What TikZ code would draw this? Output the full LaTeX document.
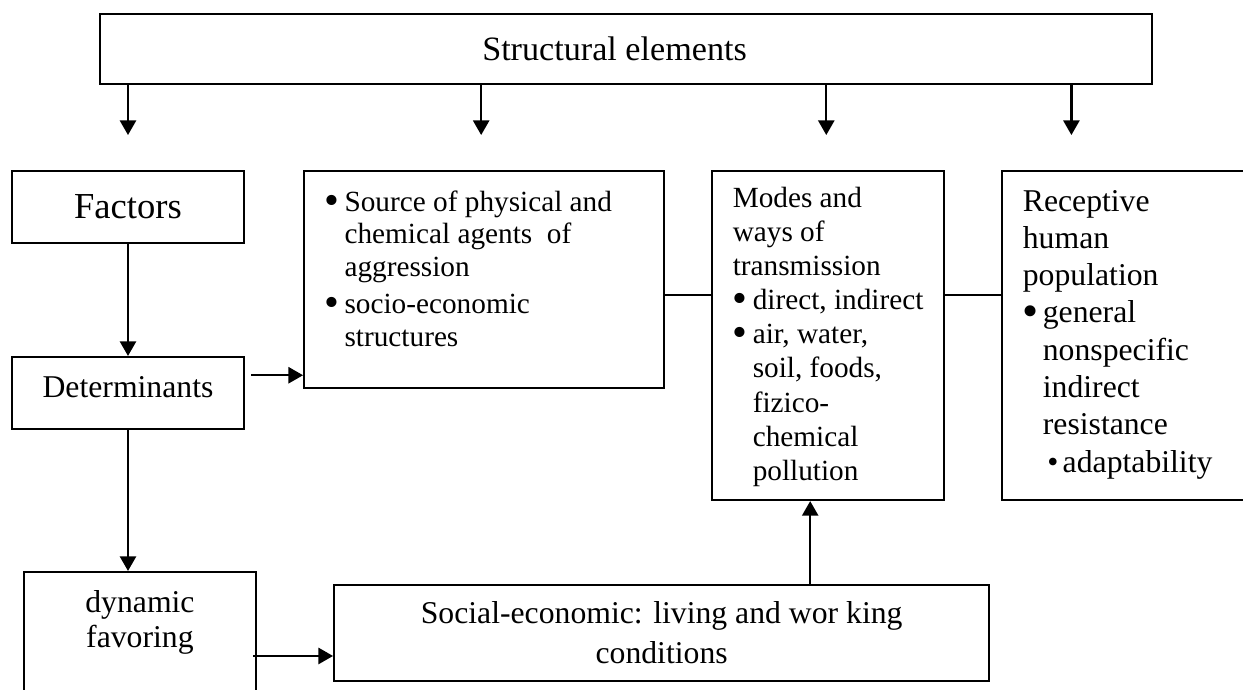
\documentclass[tikz,border=0pt]{standalone}
\usepackage{fontspec}
\setmainfont{Liberation Serif}
\usetikzlibrary{positioning, arrows.meta}

% round bullet, a bit larger than the text one
\newcommand{\bigbullet}{\raisebox{-1.3pt}{\scalebox{1.45}{\textbullet}}}
% bulleted item with hanging indent
\newcommand{\bitem}[1]{\hangindent=8.2pt\hangafter=1\noindent\makebox[8.2pt][l]{\bigbullet}#1\par}
% fixed-size text block, set from the top
\newcommand{\toptext}[3]{\parbox[c][#1][t]{#2}{\raggedright\parskip=0pt #3}}

\begin{document}
\begin{tikzpicture}[
    x=0.41pt, y=-0.41pt,
    >={Triangle[length=6pt, width=6.6pt]},
    line width=0.85pt,
    block/.style={
        draw,
        rectangle,
        align=center,
        inner sep=0pt
    },
    listbox/.style={
        draw,
        rectangle,
        inner xsep=8.4pt,
        inner ysep=0pt
    },
    link/.style={->, line width=0.95pt}
]

\useasboundingbox (0,0) rectangle (1243,689);
\clip (0,0) rectangle (1243,689);

\node[block, minimum width=431.3pt, minimum height=28.7pt, font=\fontsize{14pt}{16pt}\selectfont] (elems) at (626,49) {Structural elements\hspace{9.4pt}};

\node[block, minimum width=95.1pt, minimum height=29.5pt, font=\fontsize{15pt}{17pt}\selectfont] (factors) at (128,207) {Factors};
\node[block, below=45.9pt of factors, minimum width=95.1pt, minimum height=29.5pt, text depth=5pt, font=\fontsize{13pt}{15pt}\selectfont] (determ) {Determinants};
\node[listbox, below=57.8pt of determ, xshift=4.9pt, font=\fontsize{13pt}{14.4pt}\selectfont] (dynamic) {\toptext{62pt}{78.3pt}{\centering\rule{0pt}{16.4pt}dynamic\\ favoring}};

\node[listbox, right=23.8pt of factors.north east, anchor=north west, font=\fontsize{12pt}{13.5pt}\selectfont] (source) {\toptext{89pt}{130.8pt}{%
    \bitem{\rule{0pt}{16.4pt}Source of physical and\newline chemical agents\ \ of\newline aggression}
    \vspace{1.6pt}
    \bitem{socio-economic\newline structures}}};
\node[listbox, right=18.9pt of source.north east, anchor=north west, font=\fontsize{12pt}{14pt}\selectfont] (modes) {\toptext{134.9pt}{78.3pt}{%
    \rule{0pt}{14.8pt}Modes and\newline ways of\newline transmission\par
    \bitem{direct, indirect}
    \bitem{air, water,\newline soil, foods,\newline fizico-\newline chemical\newline pollution}}};
\node[listbox, right=23pt of modes.north east, anchor=north west, font=\fontsize{13pt}{15.3pt}\selectfont] (recept) {\toptext{134.9pt}{83.2pt}{%
    \rule{0pt}{16.4pt}Receptive\newline human\newline population\par
    \bitem{general\newline nonspecific\newline indirect\newline resistance\newline \hspace*{1.8pt}\textbullet\hspace{1.8pt}adaptability}}};

\node[block, right=31.2pt of dynamic.north east, anchor=north west, yshift=-5.3pt, minimum width=268.6pt, minimum height=39.4pt, font=\fontsize{13pt}{16.4pt}\selectfont] (social) {Social-economic: living and wor king\\ conditions};

% arrows out of the top box
\draw[link] (factors.north |- elems.south) -- ++(0,-20.5pt) coordinate (factorsin);
\draw[link] ([xshift=-1.2pt]source.north |- elems.south) -- ++(0,-20.5pt) coordinate (sourcein);
\draw[link] ([xshift=-0.8pt]modes.north |- elems.south) -- ++(0,-20.5pt) coordinate (modesin);
\draw[link] ([xshift=-21.7pt]recept.north |- elems.south) -- ++(0,-20.5pt) coordinate (receptin);

\draw[link] (factors) -- (determ);
\draw[link] (determ.south) -- (determ.south |- dynamic.north);

\coordinate (srcin) at ([yshift=5.7pt]source.south west);
\draw[link] ([xshift=2.5pt]determ.east |- srcin) -- (srcin);

\coordinate (socin) at ([yshift=10.7pt]social.south west);
\draw[link] ([xshift=-1.6pt]dynamic.east |- socin) -- (socin);
\draw[link] ([xshift=-7.4pt]modes.south |- social.north) -- ([xshift=-7.4pt]modes.south);

% plain links along the middle row
\coordinate (bus) at ([yshift=-6.4pt]source.east);
\draw (bus) -- (bus -| modes.west);
\draw (bus -| modes.east) -- (bus -| recept.west);

\end{tikzpicture}
\end{document}
